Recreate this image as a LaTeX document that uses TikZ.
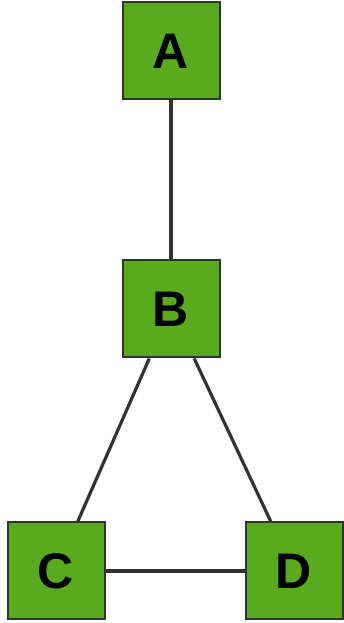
\documentclass[tikz,border=0pt]{standalone}
\usepackage{fontspec}
\setmainfont{Liberation Sans}
\usepackage{xcolor}
\usepackage{tikz}
\usetikzlibrary{positioning}
\definecolor{leafgreen}{RGB}{90,170,30}
\definecolor{edgegray}{RGB}{50,50,50}
\tikzset{
  vertex/.style={rectangle, draw=edgegray, fill=leafgreen, line width=2pt, minimum size=97pt, inner sep=0pt, font=\fontsize{50}{56}\selectfont\bfseries},
  link/.style={draw=edgegray, line width=3.2pt},
}

\begin{document}
\begin{tikzpicture}[x=1pt, y=1pt]
  \useasboundingbox (0, 0) rectangle (343, 623);
  \node[vertex] (a) at (171, 572) {A};
  \node[vertex] (b) at (171, 314) {B};
  \node[vertex] (c) at (56, 52) {C};
  \node[vertex] (d) at (294, 52) {D};
  \draw[link] (a) -- (b);
  \draw[link] (b) -- (c);
  \draw[link] (b) -- (d);
  \draw[link] (c) -- (d);
\end{tikzpicture}
\end{document}
